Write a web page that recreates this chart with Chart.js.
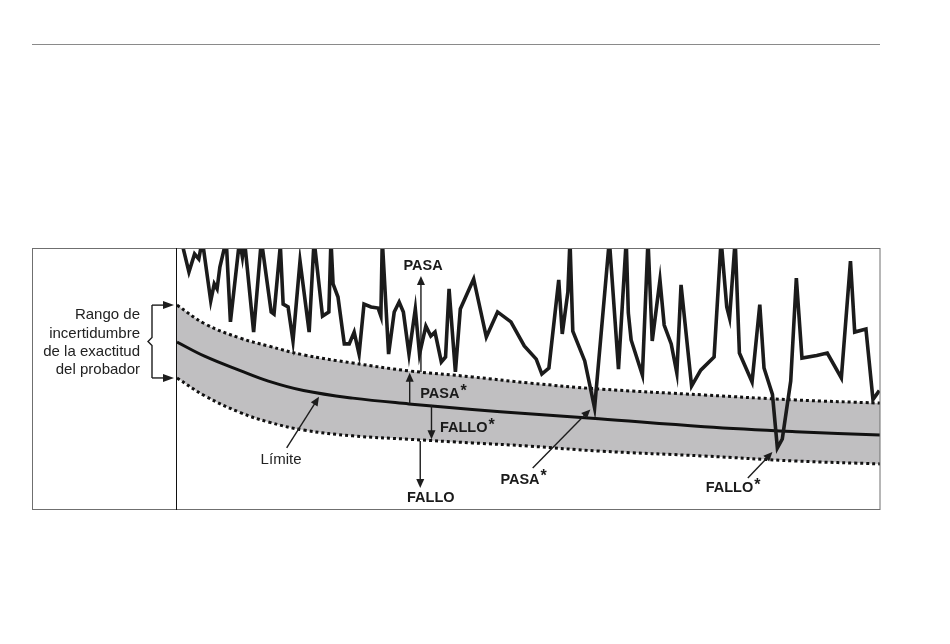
<!DOCTYPE html>
<html lang="es">
<head>
  <meta charset="UTF-8">
  <style>
    body {
      margin: 0;
      background-color: #fff;
    }

    .page {
      position: relative;
      width: 950px;
      height: 644px;
    }

    .rule {
      position: absolute;
      left: 32px;
      top: 44px;
      width: 848px;
      height: 0;
      border-top: 1px solid #8a8a8a;
    }
  </style>
</head>
<body>
  <div class="page">
    <div class="rule"></div>
    <canvas id="myChart"></canvas>
  </div>

  <script src="https://cdn.jsdelivr.net/npm/chart.js"></script>
  <script>
    // measured signal (time 0-100, value 0-100; values over 100 are cut by the frame)
    const timeX = [
      0.6, 1.7, 2.5, 3.1, 3.6, 4.8, 5.3, 5.7, 6.1, 7.0,
      7.6, 8.9, 9.3, 9.6, 10.9, 12.0, 13.4, 13.8, 14.7, 15.1,
      15.8, 16.5, 17.5, 18.8, 19.5, 20.7, 21.6, 21.9, 22.2, 22.9,
      23.8, 24.5, 25.2, 25.9, 26.6, 27.6, 28.6, 29.0, 29.2, 30.1,
      30.9, 31.6, 32.2, 33.0, 33.9, 34.5, 35.4, 36.1, 36.7, 37.6,
      38.2, 38.7, 39.6, 40.3, 42.2, 44.0, 45.6, 47.5, 49.4, 51.1,
      51.9, 52.9, 54.3, 54.8, 55.6, 55.9, 56.3, 58.0, 59.4, 61.5,
      62.8, 63.9, 64.2, 64.6, 66.2, 67.0, 67.6, 68.7, 69.3, 70.3,
      71.1, 71.7, 73.2, 74.5, 76.4, 77.4, 78.2, 78.6, 79.4, 80.0,
      81.8, 82.9, 83.5, 84.7, 85.4, 86.1, 87.3, 88.1, 88.9, 91.0,
      92.5, 94.5, 95.8, 96.4, 98.0, 99.0, 99.9
    ];
    const measured = [
      103, 90.8, 97.7, 95.8, 103, 79.8, 86.3, 84.4, 92.7, 103,
      71.8, 103, 96.6, 103, 67.9, 103, 75.6, 74.8, 101, 78.6,
      77.5, 64.5, 95.0, 67.9, 103, 74.0, 75.6, 103, 86.3, 81.3,
      63.4, 63.4, 67.9, 59.5, 78.6, 77.5, 77.1, 74.0, 103, 59.5,
      75.6, 79.4, 75.6, 59.5, 76.7, 59.5, 70.2, 66.4, 67.9, 56.5,
      58.4, 84.4, 52.7, 76.7, 88.2, 66.0, 75.6, 71.8, 62.6, 57.6,
      51.9, 54.2, 87.8, 67.2, 83.2, 103, 68.3, 56.9, 38.9, 103,
      53.8, 103, 75.2, 64.9, 51.5, 103, 64.5, 87.8, 70.6, 63.4,
      52.3, 85.9, 47.3, 53.4, 58.4, 103, 77.5, 73.3, 103, 59.9,
      48.9, 78.4, 54.2, 44.1, 23.7, 27.1, 49.2, 88.5, 58.0, 59.0,
      59.9, 50.4, 95.0, 67.9, 69.1, 42.2, 45.6
    ];

    // limit curve and tester accuracy band
    const bandX = [0, 4, 9, 13, 18, 25, 33, 42, 50, 60, 75, 88, 100];
    const upperBound = [78.2, 71.0, 65.6, 62.6, 59.2, 56.1, 53.1, 50.8, 48.5, 46.2, 43.9, 42.0, 40.8];
    const limitLine = [64.1, 58.6, 53.2, 49.2, 45.6, 42.7, 40.5, 38.4, 36.7, 34.8, 31.8, 29.9, 28.6];
    const lowerBound = [50.4, 43.5, 37.2, 33.6, 30.5, 28.3, 27.0, 25.6, 24.4, 22.5, 20.6, 18.7, 17.6];

    const rangeLabel = ['Rango de', 'incertidumbre', 'de la exactitud', 'del probador'];

    const toPoints = (xs, ys) => xs.map((x, i) => ({ x: x, y: ys[i] }));

    const FONT = "'Liberation Sans', Arial, sans-serif";
    const INK = '#1d1d1d';

    function arrow(ctx, x1, y1, x2, y2, head) {
      const a = Math.atan2(y2 - y1, x2 - x1);
      const len = head || 9;
      const hw = 4;
      ctx.beginPath();
      ctx.moveTo(x1, y1);
      ctx.lineTo(x2 - Math.cos(a) * (len - 1), y2 - Math.sin(a) * (len - 1));
      ctx.stroke();
      ctx.beginPath();
      ctx.moveTo(x2, y2);
      ctx.lineTo(x2 - len * Math.cos(a) + hw * Math.sin(a), y2 - len * Math.sin(a) - hw * Math.cos(a));
      ctx.lineTo(x2 - len * Math.cos(a) - hw * Math.sin(a), y2 - len * Math.sin(a) + hw * Math.cos(a));
      ctx.closePath();
      ctx.fill();
    }

    function label(ctx, text, x, y, align, star) {
      ctx.font = 'bold 14.5px ' + FONT;
      ctx.textAlign = align;
      ctx.textBaseline = 'middle';
      ctx.fillText(text, x, y);
      if (star) {
        const w = ctx.measureText(text).width;
        const sx = align === 'left' ? x + w + 1 : x + w / 2 + 1;
        ctx.textAlign = 'left';
        ctx.font = 'bold 16px ' + FONT;
        ctx.fillText('*', sx, y - 3);
      }
    }

    // frame, left legend panel and annotations
    const diagramPlugin = {
      id: 'diagram',
      afterDraw(chart) {
        const ctx = chart.ctx;
        const xs = chart.scales.x;
        const ys = chart.scales.y;
        const area = chart.chartArea;
        const px = v => xs.getPixelForValue(v);
        const py = v => ys.getPixelForValue(v);

        ctx.save();

        // frame
        ctx.strokeStyle = '#6f6f6f';
        ctx.lineWidth = 1;
        ctx.strokeRect(32.5, area.top + 0.5, area.right - 32.5, area.bottom - area.top - 1);
        ctx.strokeStyle = '#111';
        ctx.beginPath();
        ctx.moveTo(area.left - 0.5, area.top);
        ctx.lineTo(area.left - 0.5, area.bottom);
        ctx.stroke();

        // range text
        ctx.fillStyle = '#222';
        ctx.font = '15px ' + FONT;
        ctx.textAlign = 'right';
        ctx.textBaseline = 'middle';
        const topY = py(upperBound[0]);
        const botY = py(lowerBound[0]);
        rangeLabel.forEach((t, i) => {
          ctx.fillText(t, area.left - 37, topY + 10 + i * 18.4);
        });

        // brace with arrows
        const bx = area.left - 25;
        const midY = (topY + botY) / 2;
        ctx.strokeStyle = INK;
        ctx.fillStyle = INK;
        ctx.lineWidth = 1.4;
        ctx.beginPath();
        ctx.moveTo(bx, topY);
        ctx.lineTo(bx, midY - 4);
        ctx.lineTo(bx - 4, midY);
        ctx.lineTo(bx, midY + 4);
        ctx.lineTo(bx, botY);
        ctx.stroke();
        arrow(ctx, bx, topY, area.left - 3, topY, 11);
        arrow(ctx, bx, botY, area.left - 3, botY, 11);

        // annotations inside the plot
        ctx.lineWidth = 1.4;
        arrow(ctx, px(34.7), py(52.7), px(34.7), py(89.3));
        arrow(ctx, px(33.1), py(40.5), px(33.1), py(52.4));
        arrow(ctx, px(36.2), py(40.1), px(36.2), py(27.0));
        arrow(ctx, px(34.6), py(26.3), px(34.6), py(8.4));
        arrow(ctx, px(15.6), py(23.7), px(20.2), py(43.2));
        arrow(ctx, px(50.6), py(16.0), px(58.8), py(38.4));
        arrow(ctx, px(81.2), py(12.2), px(84.7), py(22.1));

        ctx.fillStyle = '#1a1a1a';
        label(ctx, 'PASA', px(35.0), py(93.3), 'center', false);
        label(ctx, 'PASA', px(34.6), py(44.2), 'left', true);
        label(ctx, 'FALLO', px(37.4), py(31.2), 'left', true);
        label(ctx, 'FALLO', px(36.1), py(4.6), 'center', false);
        label(ctx, 'PASA', px(46.0), py(11.5), 'left', true);
        label(ctx, 'FALLO', px(75.2), py(8.3), 'left', true);

        ctx.font = '15px ' + FONT;
        ctx.textAlign = 'center';
        ctx.fillStyle = '#222';
        ctx.fillText('Límite', px(14.8), py(19.1));

        ctx.restore();
      }
    };

    const ctx = document.getElementById('myChart').getContext('2d');
    const myChart = new Chart(ctx, {
      type: 'line',
      data: {
        datasets: [
          {
            label: 'Medida',
            data: toPoints(timeX, measured),
            borderColor: '#1b1b1b',
            borderWidth: 3.6,
            borderJoinStyle: 'miter',
            pointRadius: 0,
            tension: 0,
            clip: 0,
            fill: false
          },
          {
            label: 'Límite superior',
            data: toPoints(bandX, upperBound),
            borderColor: '#111',
            borderWidth: 3,
            borderDash: [3, 3],
            pointRadius: 0,
            tension: 0.4,
            clip: 0,
            fill: '+2',
            backgroundColor: '#c0bfc1'
          },
          {
            label: 'Límite',
            data: toPoints(bandX, limitLine),
            borderColor: '#111',
            borderWidth: 3,
            pointRadius: 0,
            tension: 0.4,
            clip: 0,
            fill: false
          },
          {
            label: 'Límite inferior',
            data: toPoints(bandX, lowerBound),
            borderColor: '#111',
            borderWidth: 3,
            borderDash: [3, 3],
            pointRadius: 0,
            tension: 0.4,
            clip: 0,
            fill: false
          }
        ]
      },
      options: {
        responsive: true,
        maintainAspectRatio: false,
        animation: false,
        layout: {
          padding: { left: 177, right: 70, top: 248, bottom: 134 }
        },
        scales: {
          x: { type: 'linear', min: 0, max: 100, display: false },
          y: { type: 'linear', min: 0, max: 100, display: false }
        },
        plugins: {
          legend: { display: false },
          tooltip: { enabled: false },
          filler: { drawTime: 'beforeDatasetsDraw' }
        }
      },
      plugins: [diagramPlugin]
    });
  </script>
</body>
</html>
